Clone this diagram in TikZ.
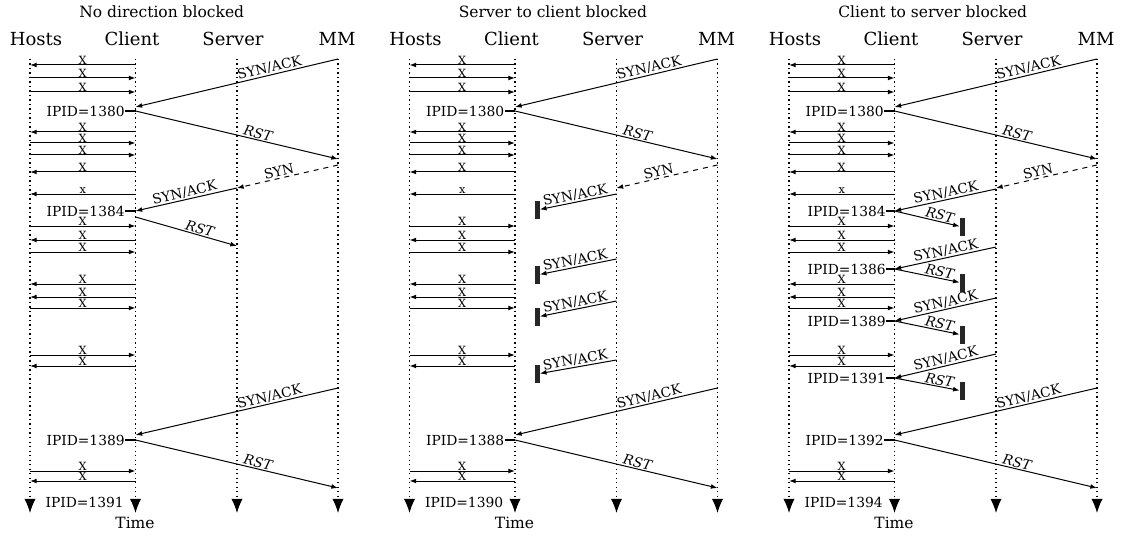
\documentclass[tikz,border=0pt]{standalone}
\usepackage{fontspec}
\setmainfont{DejaVu Serif}
\usetikzlibrary{arrows.meta,positioning}

\begin{document}
\begin{tikzpicture}[x=0.6pt,y=-0.6pt,
    msg/.style={-{Latex[length=4pt,width=2.9pt]},line width=0.6pt},
    life/.style={dotted,line width=0.7pt,-{Latex[length=8.5pt,width=6.8pt]}},
    lbl/.style={font=\fontsize{8.2}{9}\selectfont,sloped,above,inner sep=0.5pt},
    xl/.style={font=\fontsize{6.8}{7}\selectfont,above,inner sep=0pt},
    ipid/.style={font=\fontsize{8.3}{9}\selectfont,anchor=east,inner sep=0pt},
    col/.style={font=\fontsize{10.8}{12}\selectfont},
    ttl/.style={font=\fontsize{9.3}{11}\selectfont,anchor=west,inner sep=0pt},
    blk/.style={fill=black!85,minimum width=3pt,minimum height=10.5pt,inner sep=0pt},
    tick/.style={line width=1.3pt}]
  \useasboundingbox (0,0) rectangle (1121,536);

  % the parts that all three panels share
  \foreach \p/\o/\ttl/\ipa/\ipb in {1/0/No direction blocked/1389/1391,
      2/379.5/Server to client blocked/1388/1390,
      3/759/Client to server blocked/1392/1394}{
    \begin{scope}[shift={(\o,0)}]
      \node[ttl] (title\p) at (79,12) {\ttl};
      \node[col] (hosts\p) at (36,39) {Hosts};
      \node[col] (client\p) at (132,39) {Client};
      \node[col] (server\p) at (233,39) {Server};
      \node[col] (mm\p) at (337,39) {MM};
      \coordinate (H\p) at (30,59);
      \coordinate (C\p) at (135.5,59);
      \coordinate (S\p) at (237,59);
      \coordinate (M\p) at (338,59);
      \foreach \l in {H,C,S,M}
        \draw[life] (\l\p) -- ++(0,454);

      \foreach \y/\a/\b/\t in {65/C/H/X, 78/H/C/X, 92/H/C/X, 132/C/H/X, 143/H/C/X,
          155/H/C/X, 172/C/H/X, 194/C/H/x, 226/H/C/X, 240/C/H/X, 252/H/C/X,
          284/C/H/X, 297/C/H/X, 308/H/C/X, 355/H/C/X, 366/C/H/X, 471/H/C/X, 481/C/H/X}
        \draw[msg] (\a\p |- 0,\y) -- node[xl] {\t} (\b\p |- 0,\y);

      \path[msg]
        (M\p) edge node[lbl,pos=0.33] {SYN/ACK} (C\p |- 0,107)
        (C\p |- 0,111) edge node[lbl,pos=0.6] {\textit{RST}} (M\p |- 0,159)
        (M\p |- 0,165) edge[dashed] node[lbl,pos=0.57] {SYN} (S\p |- 0,188)
        (M\p |- 0,388) edge node[lbl,pos=0.33] {SYN/ACK} (C\p |- 0,435)
        (C\p |- 0,440) edge node[lbl,pos=0.6] {\textit{RST}} (M\p |- 0,488);

      \node[ipid] (ipa\p) at (125,111) {IPID=1380};
      \draw[tick] (ipa\p.east) -- (C\p |- ipa\p.east);
      \node[ipid] (ipb\p) at (125,440) {IPID=\ipa};
      \draw[tick] (ipb\p.east) -- (C\p |- ipb\p.east);
      \node[ipid] (ipc\p) at (124,502) {IPID=\ipb};
      \node[ttl,anchor=center] (time\p) at (135,523) {Time};
    \end{scope}
  }

  % no direction blocked
  \path[msg]
    (S1 |- 0,188) edge node[lbl,pos=0.5] {SYN/ACK} (C1 |- 0,211)
    (C1 |- 0,217) edge node[lbl,pos=0.62] {\textit{RST}} (S1 |- 0,246);
  \node[ipid] (ipd1) at (125,211) {IPID=1384};
  \draw[tick] (ipd1.east) -- (C1 |- ipd1.east);

  % server to client blocked
  \begin{scope}[shift={(379.5,0)}]
    \foreach \i/\a/\b in {1/194/210, 2/259/275, 3/301/317, 4/360/374}{
      \node[blk] (k\i) at (157.5,\b) {};
      \path[msg] (S2 |- 0,\a) edge node[lbl,pos=0.52] {SYN/ACK} (k\i);
    }
  \end{scope}

  % client to server blocked
  \begin{scope}[shift={(759,0)}]
    \foreach \i/\a/\b/\c/\n in {1/189/211/227/1384, 2/247/269/283/1386,
        3/298/321/335/1389, 4/354/378/391/1391}{
      \node[blk] (r\i) at (203.5,\c) {};
      \node[ipid] (ipr\i) at (127,\b) {IPID=\n};
      \draw[tick] (ipr\i.east) -- (C3 |- ipr\i.east);
      \path[msg]
        (S3 |- 0,\a) edge node[lbl,pos=0.48] {SYN/ACK} (C3 |- 0,\b)
        (C3 |- 0,\b) edge node[lbl,pos=0.68] {\textit{RST}} (r\i);
    }
  \end{scope}
\end{tikzpicture}
\end{document}
